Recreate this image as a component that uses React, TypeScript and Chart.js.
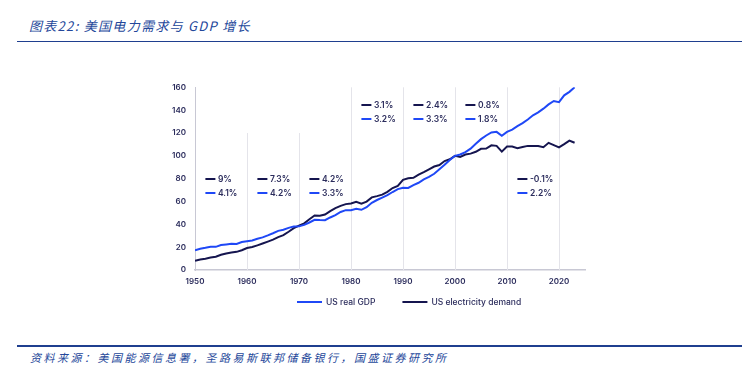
import React, { useEffect, useRef } from "react";
import { Chart, registerables } from "chart.js";

Chart.register(...registerables);

const years = [
  1950, 1951, 1952, 1953, 1954, 1955, 1956, 1957, 1958, 1959,
  1960, 1961, 1962, 1963, 1964, 1965, 1966, 1967, 1968, 1969,
  1970, 1971, 1972, 1973, 1974, 1975, 1976, 1977, 1978, 1979,
  1980, 1981, 1982, 1983, 1984, 1985, 1986, 1987, 1988, 1989,
  1990, 1991, 1992, 1993, 1994, 1995, 1996, 1997, 1998, 1999,
  2000, 2001, 2002, 2003, 2004, 2005, 2006, 2007, 2008, 2009,
  2010, 2011, 2012, 2013, 2014, 2015, 2016, 2017, 2018, 2019,
  2020, 2021, 2022, 2023,
];

const gdpIndex = [
  17.2, 18.6, 19.4, 20.4, 20.3, 21.9, 22.4, 23.0, 22.8, 24.5,
  25.2, 25.8, 27.4, 28.6, 30.3, 32.2, 34.3, 35.2, 36.9, 38.0,
  38.2, 39.5, 41.6, 44.0, 43.7, 43.6, 46.0, 48.1, 50.8, 52.4,
  52.4, 53.6, 52.7, 55.0, 58.9, 61.3, 63.4, 65.6, 68.3, 70.8,
  72.0, 71.9, 74.4, 76.4, 79.4, 81.5, 84.3, 88.2, 92.1, 96.3,
  100.0, 101.2, 103.2, 106.3, 110.6, 114.6, 117.8, 120.5, 121.0, 117.5,
  121.0, 123.0, 126.0, 128.6, 131.8, 135.5, 138.0, 141.3, 145.0, 148.0,
  147.0, 153.0, 156.0, 160.0,
];

const electricityIndex = [
  8.1, 9.2, 9.9, 10.9, 11.6, 13.3, 14.5, 15.3, 15.9, 17.3,
  19.2, 20.1, 21.6, 23.2, 24.9, 26.6, 28.8, 30.6, 33.5, 36.6,
  38.8, 40.9, 44.4, 47.7, 47.5, 48.6, 51.6, 54.2, 56.2, 57.7,
  58.3, 59.8, 58.1, 59.9, 63.6, 64.7, 66.0, 68.4, 71.8, 73.7,
  79.0, 80.3, 80.7, 83.5, 85.7, 88.1, 90.6, 91.9, 95.4, 97.0,
  100.0, 99.0, 101.1, 101.9, 103.5, 106.1, 106.3, 109.2, 108.7, 103.7,
  108.2, 108.1, 106.7, 107.7, 108.7, 108.6, 108.6, 107.5, 111.4, 109.4,
  107.4, 110.2, 113.3, 111.4,
];

const xTicks = [1950, 1960, 1970, 1980, 1990, 2000, 2010, 2020];
const yTicks = [0, 20, 40, 60, 80, 100, 120, 140, 160];

const periodStarts = [1950, 1960, 1970, 1980, 1990, 2000, 2010];
const electricityGrowth = ["9%", "7.3%", "4.2%", "3.1%", "2.4%", "0.8%", "-0.1%"];
const gdpGrowth = ["4.1%", "4.2%", "3.3%", "3.2%", "3.3%", "1.8%", "2.2%"];

const gdpLabel = "US real GDP";
const electricityLabel = "US electricity demand";

const GDP_COLOR = "#1f48f6";
const ELEC_COLOR = "#15154f";
const TEXT_COLOR = "#2b2c5c";
const HEAD_COLOR = "#24479a";
const FONT = "Inter, 'Noto Sans', sans-serif";

export default function App() {
  const ref = useRef<HTMLCanvasElement>(null);

  useEffect(() => {
    const canvas = ref.current;
    if (!canvas) return;

    const gridPlugin = {
      id: "decadeGrid",
      beforeDatasetsDraw(chart: any) {
        const { ctx, scales } = chart;
        const x = scales.x;
        const y = scales.y;
        ctx.save();
        ctx.strokeStyle = "#e4e4ea";
        ctx.lineWidth = 1;
        xTicks.forEach((d, i) => {
          if (i === 0) return;
          const px = Math.round(x.getPixelForValue(d)) + 0.5;
          const top = d < 1980 ? 120 : 160;
          ctx.beginPath();
          ctx.moveTo(px, y.getPixelForValue(0));
          ctx.lineTo(px, y.getPixelForValue(top));
          ctx.stroke();
        });
        ctx.restore();
      },
    };

    const notePlugin = {
      id: "growthNotes",
      afterDatasetsDraw(chart: any) {
        const { ctx, scales } = chart;
        const x = scales.x;
        const y = scales.y;
        ctx.save();
        ctx.font = `600 8.5px ${FONT}`;
        ctx.textBaseline = "middle";
        ctx.textAlign = "left";
        periodStarts.forEach((start, i) => {
          const upper = start >= 1980 && start < 2010;
          const rows = upper ? [144.5, 132] : [79.7, 67.2];
          const x0 = x.getPixelForValue(start + 2);
          const items = [
            { color: ELEC_COLOR, text: electricityGrowth[i] },
            { color: GDP_COLOR, text: gdpGrowth[i] },
          ];
          items.forEach((it, k) => {
            const py = Math.round(y.getPixelForValue(rows[k]));
            ctx.strokeStyle = it.color;
            ctx.lineWidth = 2;
            ctx.beginPath();
            ctx.moveTo(x0, py);
            ctx.lineTo(x0 + 10, py);
            ctx.stroke();
            ctx.fillStyle = TEXT_COLOR;
            ctx.fillText(it.text, x0 + 12.5, py + 0.5);
          });
        });
        ctx.restore();
      },
    };

    const legendPlugin = {
      id: "bottomLegend",
      afterDraw(chart: any) {
        const { ctx, chartArea } = chart;
        ctx.save();
        ctx.font = `500 8.5px ${FONT}`;
        ctx.textBaseline = "middle";
        ctx.textAlign = "left";
        const ly = 252;
        const items = [
          { color: GDP_COLOR, text: chart.data.datasets[0].label },
          { color: ELEC_COLOR, text: chart.data.datasets[1].label },
        ];
        let lx = chartArea.left + 102;
        items.forEach((it) => {
          ctx.strokeStyle = it.color;
          ctx.lineWidth = 2;
          ctx.beginPath();
          ctx.moveTo(lx, ly);
          ctx.lineTo(lx + 25, ly);
          ctx.stroke();
          ctx.fillStyle = TEXT_COLOR;
          ctx.fillText(it.text, lx + 29, ly + 0.5);
          lx += 29 + ctx.measureText(it.text).width + 27;
        });
        ctx.restore();
      },
    };

    const chart = new Chart(canvas, {
      type: "line",
      data: {
        datasets: [
          {
            label: gdpLabel,
            data: years.map((yr, i) => ({ x: yr, y: gdpIndex[i] })),
            borderColor: GDP_COLOR,
            backgroundColor: GDP_COLOR,
            borderWidth: 2,
            pointRadius: 0,
            tension: 0,
          },
          {
            label: electricityLabel,
            data: years.map((yr, i) => ({ x: yr, y: electricityIndex[i] })),
            borderColor: ELEC_COLOR,
            backgroundColor: ELEC_COLOR,
            borderWidth: 2,
            pointRadius: 0,
            tension: 0,
          },
        ],
      },
      options: {
        responsive: false,
        maintainAspectRatio: false,
        animation: false,
        devicePixelRatio: 1,
        layout: { padding: { left: 150, right: 162, top: 37.3, bottom: 40 } },
        plugins: {
          legend: { display: false },
          tooltip: { enabled: false },
          title: { display: false },
        },
        scales: {
          x: {
            type: "linear",
            min: 1950,
            max: 2025,
            afterBuildTicks: (axis: any) => {
              axis.ticks = xTicks.map((v) => ({ value: v }));
            },
            afterFit: (axis: any) => {
              axis.height = 20;
            },
            grid: { display: false, drawTicks: false },
            border: { display: true, color: "#c8c8d4", width: 1.5 },
            ticks: {
              padding: 7,
              maxRotation: 0,
              autoSkip: false,
              color: TEXT_COLOR,
              font: { family: FONT, size: 8, weight: 600 },
              callback: (v: any) => String(v),
            },
          },
          y: {
            min: 0,
            max: 160,
            afterBuildTicks: (axis: any) => {
              axis.ticks = yTicks.map((v) => ({ value: v }));
            },
            afterFit: (axis: any) => {
              axis.width = 45;
            },
            grid: { display: false, drawTicks: false },
            border: { display: true, color: "#c8c8d4", width: 1 },
            ticks: {
              padding: 9,
              color: TEXT_COLOR,
              font: { family: FONT, size: 8, weight: 600 },
            },
          },
        },
      },
      plugins: [gridPlugin, notePlugin, legendPlugin],
    } as any);

    return () => chart.destroy();
  }, []);

  return (
    <div style={{ position: "absolute", left: 0, top: 0, width: 747, height: 378, background: "#fff" }}>
      <div
        style={{
          position: "absolute",
          left: 29,
          top: 18,
          fontFamily: "'Noto Sans CJK SC', sans-serif",
          fontStyle: "italic",
          fontSize: 13,
          lineHeight: "16px",
          letterSpacing: 1.3,
          color: HEAD_COLOR,
          whiteSpace: "nowrap",
        }}
      >
        图表22:  美国电力需求与 GDP 增长
      </div>
      <div style={{ position: "absolute", left: 17, top: 40.5, width: 725, height: 1.5, background: "#1f3f8f" }} />
      <canvas
        ref={ref}
        width={747}
        height={280}
        style={{ position: "absolute", left: 0, top: 50, width: 747, height: 280 }}
      />
      <div style={{ position: "absolute", left: 17, top: 345, width: 725, height: 1.5, background: "#1f3f8f" }} />
      <div
        style={{
          position: "absolute",
          left: 30,
          top: 350,
          fontFamily: "'Noto Sans CJK SC', sans-serif",
          fontStyle: "italic",
          fontSize: 11,
          lineHeight: "14px",
          letterSpacing: 2.5,
          color: HEAD_COLOR,
          whiteSpace: "nowrap",
        }}
      >
        资料来源：美国能源信息署，圣路易斯联邦储备银行，国盛证券研究所
      </div>
    </div>
  );
}
